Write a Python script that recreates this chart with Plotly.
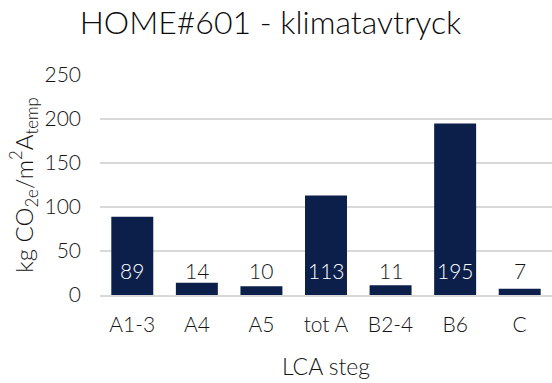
import plotly.graph_objects as go

# LCA stages and their climate footprint (kg CO2e per m2 Atemp)
stages = ["A1-3", "A4", "A5", "tot A", "B2-4", "B6", "C"]
values = [89, 14, 10, 113, 11, 195, 7]
y_ticks = [0, 50, 100, 150, 200, 250]

bar_color = "#0c1f4b"
text_color = "#141414"
font_family = "Lato, 'Open Sans', sans-serif"
font_weight = 300

label_y = 28  # vertical position of the value labels, near the bar base

fig = go.Figure()
fig.add_trace(go.Bar(
    x=stages,
    y=values,
    marker=dict(color=bar_color, line=dict(width=0)),
    hoverinfo="x+y",
))

for s, v in zip(stages, values):
    fig.add_annotation(
        x=s, y=label_y, text=str(v), showarrow=False,
        xanchor="center", yanchor="middle",
        font=dict(size=21, family=font_family, weight=font_weight,
                  color="white" if v > label_y + 8 else text_color),
    )

fig.update_layout(
    width=552, height=383,
    margin=dict(l=100, r=0, t=75, b=88),
    paper_bgcolor="white", plot_bgcolor="white",
    bargap=0.35,
    showlegend=False,
    font=dict(family=font_family, color=text_color, size=21, weight=font_weight),
    title=dict(
        text="HOME#601 - klimatavtryck",
        x=0.49, xanchor="center", y=0.94, yanchor="middle",
        font=dict(size=32, color="#0a0a0a", family=font_family, weight=font_weight),
    ),
    xaxis=dict(
        showgrid=False, showline=True, linecolor="#d9d9d9", linewidth=1.5,
        ticks="", tickfont=dict(size=21, weight=font_weight), ticklabelstandoff=10,
        title=dict(text="LCA steg", font=dict(size=23, weight=font_weight), standoff=24),
    ),
    yaxis=dict(
        range=[0, 250], tickvals=y_ticks, showgrid=True,
        gridcolor="#d9d9d9", gridwidth=1.5, zeroline=False, showline=False,
        ticks="", ticklabelstandoff=18, tickfont=dict(size=21, weight=font_weight),
        title=dict(text="kg CO<sub>2e</sub>/m<sup>2</sup>A<sub>temp</sub>",
                   font=dict(size=24, weight=font_weight), standoff=4),
    ),
)

fig.write_html("out.html")
